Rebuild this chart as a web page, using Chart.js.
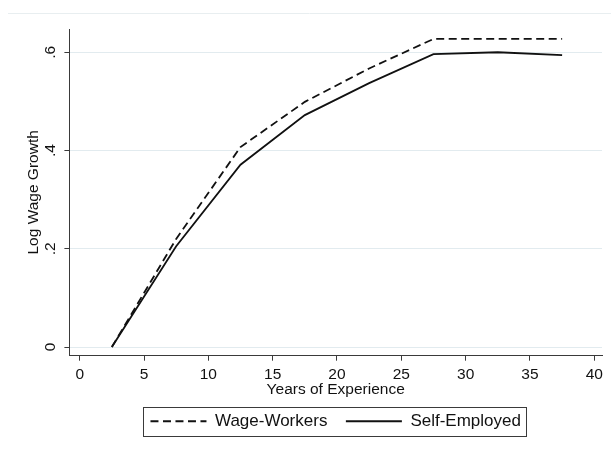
<!DOCTYPE html>
<html>
<head>
<meta charset="utf-8">
<script src="https://cdn.jsdelivr.net/npm/chart.js@4.4.0/dist/chart.umd.min.js"></script>
<style>
  html, body { margin: 0; padding: 0; background: #fff; }
  #wrap { position: relative; width: 611px; height: 449px; }
</style>
</head>
<body>
<div id="wrap"><canvas id="chart" width="611" height="449"></canvas></div>
<script>
// Bin midpoints, years of experience
const experience = [2.5, 7.5, 12.5, 17.5, 22.5, 27.5, 32.5, 37.5];
// Log wage growth by group
const wageWorkers = [0, 0.22, 0.407, 0.499, 0.567, 0.627, 0.627, 0.627];
const selfEmployed = [0, 0.205, 0.371, 0.472, 0.537, 0.596, 0.600, 0.594];
const seriesNames = ["Wage-Workers", "Self-Employed"];
// Axis ticks
const xTicks = [0, 5, 10, 15, 20, 25, 30, 35, 40];
const yTicks = [0, 0.2, 0.4, 0.6];
const yTickLabels = ["0", ".2", ".4", ".6"];

const FONT = '"Liberation Sans", Arial, sans-serif';
const INK = "#111";
const AXIS = "#3a3a3a";
const GRID = "#e2ebef";

function points(ys) {
  return experience.map((x, i) => ({ x: x, y: ys[i] }));
}

// faint frame line at the top of the graph region
const frameLine = {
  id: "frameLine",
  beforeDraw(chart) {
    const ctx = chart.ctx;
    ctx.save();
    ctx.strokeStyle = "#e8eef0";
    ctx.lineWidth = 1;
    ctx.beginPath();
    ctx.moveTo(8, 13.5);
    ctx.lineTo(611, 13.5);
    ctx.stroke();
    ctx.restore();
  }
};

// Stata style vertical y tick labels
const yLabels = {
  id: "yLabels",
  afterDraw(chart) {
    const ctx = chart.ctx;
    const y = chart.scales.y;
    ctx.save();
    ctx.font = "15.5px " + FONT;
    ctx.fillStyle = INK;
    ctx.textAlign = "center";
    ctx.textBaseline = "middle";
    yTicks.forEach((v, i) => {
      ctx.save();
      ctx.translate(y.right - 19, y.getPixelForValue(v));
      ctx.rotate(-Math.PI / 2);
      ctx.fillText(yTickLabels[i], 0, 0);
      ctx.restore();
    });
    ctx.restore();
  }
};

// box round the legend
const legendBox = {
  id: "legendBox",
  afterDraw(chart) {
    const boxes = chart.legend.legendHitBoxes;
    if (!boxes || !boxes.length) return;
    const first = boxes[0];
    const last = boxes[boxes.length - 1];
    const x1 = Math.round(first.left - 7) + 0.5;
    const x2 = Math.round(last.left + last.width + 5) + 0.5;
    const cy = first.top + first.height / 2;
    const y1 = Math.round(cy - 14.5) + 0.5;
    const ctx = chart.ctx;
    ctx.save();
    ctx.strokeStyle = AXIS;
    ctx.lineWidth = 1;
    ctx.strokeRect(x1, y1, x2 - x1, 29);
    ctx.restore();
  }
};

new Chart(document.getElementById("chart"), {
  type: "line",
  data: {
    datasets: [
      {
        label: seriesNames[0],
        data: points(wageWorkers),
        borderColor: INK,
        backgroundColor: "rgba(0,0,0,0)",
        borderWidth: 1.8,
        borderDash: [8, 4.5],
        pointRadius: 0,
        tension: 0
      },
      {
        label: seriesNames[1],
        data: points(selfEmployed),
        borderColor: INK,
        backgroundColor: "rgba(0,0,0,0)",
        borderWidth: 1.8,
        pointRadius: 0,
        tension: 0
      }
    ]
  },
  options: {
    responsive: false,
    animation: false,
    layout: { padding: { top: 29, right: 9, bottom: 9.25, left: 0 } },
    scales: {
      x: {
        type: "linear",
        min: -0.8,
        max: 40.6,
        afterBuildTicks: (scale) => { scale.ticks = xTicks.map(v => ({ value: v })); },
        afterFit: (scale) => { scale.height = 38.55; },
        grid: { display: true, drawOnChartArea: false, tickLength: 5, tickColor: AXIS },
        border: { display: true, color: AXIS, width: 1 },
        ticks: {
          padding: 5,
          color: INK,
          font: { family: FONT, size: 15.5 },
          maxRotation: 0,
          callback: (v) => String(v)
        },
        title: {
          display: true,
          text: "Years of Experience",
          color: INK,
          font: { family: FONT, size: 15.5 },
          padding: { top: 0, bottom: -5 }
        }
      },
      y: {
        min: -0.0177,
        max: 0.6473,
        afterBuildTicks: (scale) => { scale.ticks = yTicks.map(v => ({ value: v })); },
        afterFit: (scale) => { scale.width = 69.4; },
        grid: { color: GRID, lineWidth: 1, tickLength: 5, tickColor: AXIS },
        border: { display: true, color: AXIS, width: 1 },
        ticks: { display: false },
        title: {
          display: true,
          text: "Log Wage Growth",
          color: INK,
          font: { family: FONT, size: 15.5 },
          padding: { top: 24.7, bottom: 0 }
        }
      }
    },
    plugins: {
      legend: {
        position: "bottom",
        fullSize: false,
        labels: {
          usePointStyle: true,
          pointStyle: "line",
          pointStyleWidth: 56,
          color: INK,
          padding: 18.5,
          font: { family: FONT, size: 17 },
          // take the line style from the dataset, not from its points
          generateLabels(chart) {
            const items = Chart.defaults.plugins.legend.labels.generateLabels(chart);
            items.forEach((item) => {
              const ds = chart.data.datasets[item.datasetIndex];
              item.lineDash = ds.borderDash || [];
              item.lineWidth = ds.borderWidth;
              item.strokeStyle = ds.borderColor;
              item.pointStyle = "line";
            });
            return items;
          }
        }
      },
      tooltip: { enabled: false }
    }
  },
  plugins: [frameLine, yLabels, legendBox]
});
</script>
</body>
</html>
